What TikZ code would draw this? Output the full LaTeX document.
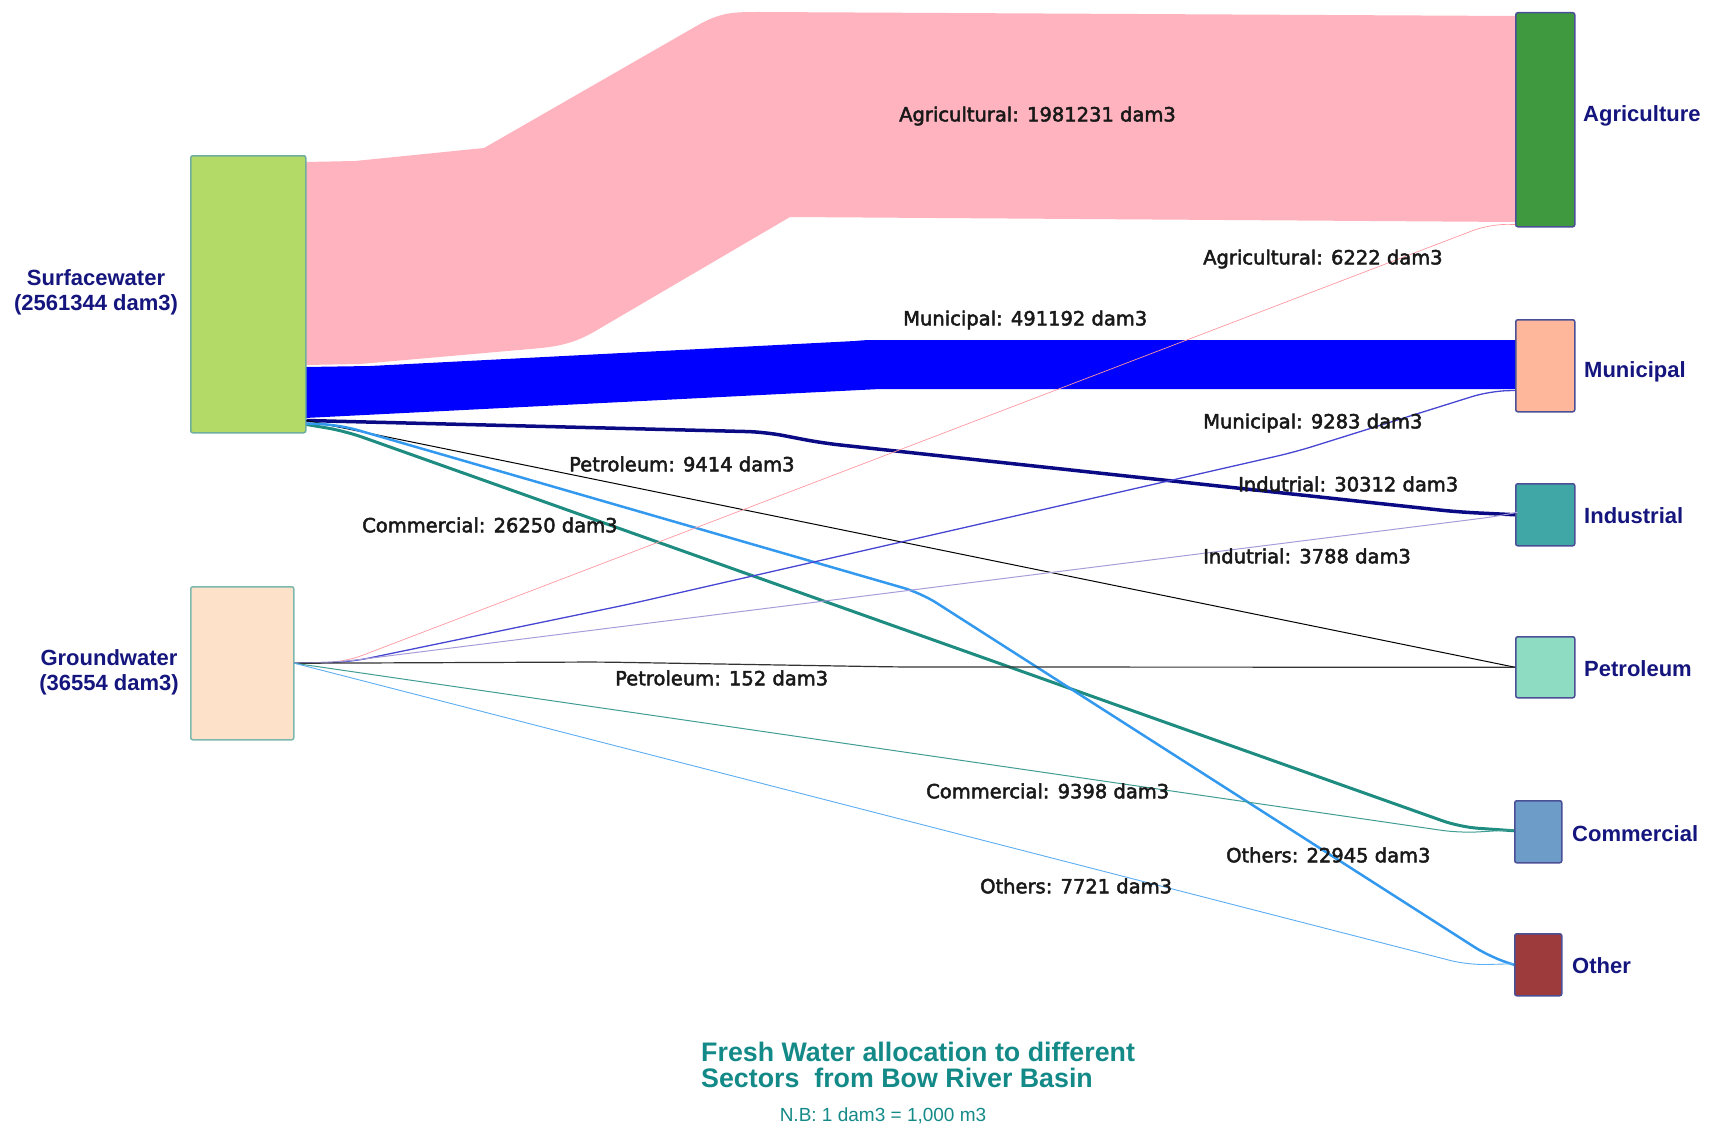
\documentclass[tikz,border=0pt]{standalone}
\usepackage{fontspec}
\setmainfont{Liberation Sans}
\newfontfamily\dejavu[FakeBold=2.5]{DejaVu Sans}
\usetikzlibrary{calc}
\definecolor{swgreen}{HTML}{B3D966}
\definecolor{swborder}{HTML}{6FAE9C}
\definecolor{gwpeach}{HTML}{FDE2C9}
\definecolor{gwborder}{HTML}{7DB8AE}
\definecolor{agrigreen}{HTML}{3F9A3F}
\definecolor{munisalmon}{HTML}{FFB79B}
\definecolor{industeal}{HTML}{40A6A6}
\definecolor{petromint}{HTML}{8EDCC2}
\definecolor{commblue}{HTML}{6E9CC9}
\definecolor{otherred}{HTML}{9C3A3C}
\definecolor{boxborder}{HTML}{4A4F96}
\definecolor{bandpink}{HTML}{FFB3BE}
\definecolor{bandblue}{HTML}{0000FF}
\definecolor{navyline}{HTML}{0A0A85}
\definecolor{tealline}{HTML}{1E8C80}
\definecolor{skyline}{HTML}{3399EE}
\definecolor{muniline}{HTML}{4646D2}
\definecolor{indusline}{HTML}{A89CD8}
\definecolor{navytext}{HTML}{15157E}
\definecolor{titleteal}{HTML}{148A88}
\tikzset{
  srcbox/.style={draw, line width=1.5pt, rounded corners=2pt, inner sep=0pt, anchor=north west},
  dstbox/.style={draw=boxborder, line width=1.5pt, rounded corners=2pt, inner sep=0pt, anchor=north west},
  flowlbl/.style={font=\dejavu\fontsize{19.5}{22}\selectfont, anchor=west, inner sep=0pt, text=black!90},
  nodelbl/.style={font=\bfseries\fontsize{22}{25}\selectfont, text=navytext, inner sep=0pt},
  link/.style={rounded corners=18pt, line join=round}
}
\begin{document}
\begin{tikzpicture}[x=1pt,y=-1pt]
\useasboundingbox (0,0) rectangle (1713,1129);

% bands
\fill[bandpink] (305,162) -- (355,161) -- (484,148) -- (700,24)
  .. controls (722,12) and (735,12) .. (760,12) -- (1515,16) -- (1515,222)
  -- (790,217) -- (592,333) .. controls (572,344) and (556,347) .. (530,349)
  -- (360,364) -- (305,365) -- cycle;
\fill[bandblue] (305,367) -- (370,366) -- (855,341) .. controls (865,340) and (870,340) .. (880,340)
  -- (1515,340) -- (1515,389) -- (880,389) -- (305,418) -- cycle;

% nodes
\node[srcbox, fill=swgreen, draw=swborder, minimum width=115pt, minimum height=277pt] (sw) at (190,155) {};
\node[srcbox, fill=gwpeach, draw=gwborder, minimum width=103pt, minimum height=153pt] (gw) at (190,586) {};
\node[dstbox, fill=agrigreen, minimum width=59pt, minimum height=214pt] (agri) at (1515,12) {};
\node[dstbox, fill=munisalmon, minimum width=59pt, minimum height=92pt] (muni) at (1515,319) {};
\node[dstbox, fill=industeal, minimum width=59pt, minimum height=62pt] (indus) at (1515,483) {};
\node[dstbox, fill=petromint, minimum width=59pt, minimum height=61pt] (petro) at (1515,636) {};
\node[dstbox, fill=commblue, minimum width=47pt, minimum height=62pt] (comm) at (1514,800) {};
\node[dstbox, fill=otherred, minimum width=47pt, minimum height=62pt] (other) at (1514,933) {};

% surface water links
\draw[link, navyline, line width=3.5pt] ($(sw.south east)+(0,-13)$) -- (765,432) -- (822,443) -- (1458,512) -- (indus.west);
\draw[link, black, line width=1pt] ($(sw.south east)+(0,-13)$) -- (petro.west);
\draw[link, tealline, line width=3pt] ($(sw.south east)+(0,-9)$) -- (345,431) -- (1460,827) -- ($(comm.west)+(0,-1)$);
\draw[link, skyline, line width=2.5pt] ($(sw.south east)+(0,-10)$) -- (340,425) -- (921,593) -- (1490,957) -- (other.west);

% groundwater links
\draw[link, bandpink!85!red, line width=0.7pt] (gw.east) -- (345,662) -- (1490,224) -- ($(agri.south west)+(0,-3)$);
\draw[link, muniline, line width=1.3pt] (gw.east) -- (350,662) -- (630,604) -- (1295,452) -- (1490,391) -- ($(muni.south west)+(0,-22)$);
\draw[link, indusline, line width=1pt] (gw.east) -- (340,662) -- (1500,516) -- ($(indus.west)+(0,-2)$);
\draw[link, black!80, line width=1.2pt] (gw.east) -- (600,662) -- (900,667) -- (petro.west);
\draw[link, tealline!85!white, line width=1pt] (gw.east) -- (1460,833) -- ($(comm.west)+(0,-2)$);
\draw[link, skyline!80!white, line width=0.9pt] (gw.east) -- (1468,965) -- ($(other.west)+(0,-1)$);

% node labels
\node[nodelbl, align=center] (swlbl) at (96,292) {Surfacewater\\(2561344 dam3)};
\node[nodelbl, align=center] (gwlbl) at (109,672) {Groundwater\\(36554 dam3)};
\node[nodelbl, anchor=west] (agrilbl) at (1583,116) {Agriculture};
\node[nodelbl, anchor=west] (munilbl) at (1584,372) {Municipal};
\node[nodelbl, anchor=west] (induslbl) at (1584,516) {Industrial};
\node[nodelbl, anchor=west] (petrolbl) at (1584,669) {Petroleum};
\node[nodelbl, anchor=west] (commlbl) at (1572,834) {Commercial};
\node[nodelbl, anchor=west] (otherlbl) at (1572,966) {Other};

% flow labels
\node[flowlbl] (l1) at (899,116) {Agricultural: 1981231 dam3};
\node[flowlbl] (l2) at (1203,259) {Agricultural: 6222 dam3};
\node[flowlbl] (l3) at (903,320) {Municipal: 491192 dam3};
\node[flowlbl] (l4) at (1203,423) {Municipal: 9283 dam3};
\node[flowlbl] (l5) at (1238,484) {Indutrial: 30312 dam3};
\node[flowlbl] (l6) at (1203,556) {Indutrial: 3788 dam3};
\node[flowlbl] (l7) at (569,464) {Petroleum: 9414 dam3};
\node[flowlbl] (l8) at (362,525) {Commercial: 26250 dam3};
\node[flowlbl] (l9) at (615,678) {Petroleum: 152 dam3};
\node[flowlbl] (l10) at (926,791) {Commercial: 9398 dam3};
\node[flowlbl] (l11) at (1226,855) {Others: 22945 dam3};
\node[flowlbl] (l12) at (980,886) {Others: 7721 dam3};

% title
\node[anchor=west, align=left, inner sep=0pt, text=titleteal, font=\bfseries\fontsize{26.8}{26.5}\selectfont] (title) at (701,1065) {Fresh Water allocation to different\\Sectors\ \ from Bow River Basin};
\node[inner sep=0pt, text=titleteal, font=\fontsize{19}{22}\selectfont] (nb) at (883,1116) {N.B: 1 dam3 = 1,000 m3};
\end{tikzpicture}
\end{document}
